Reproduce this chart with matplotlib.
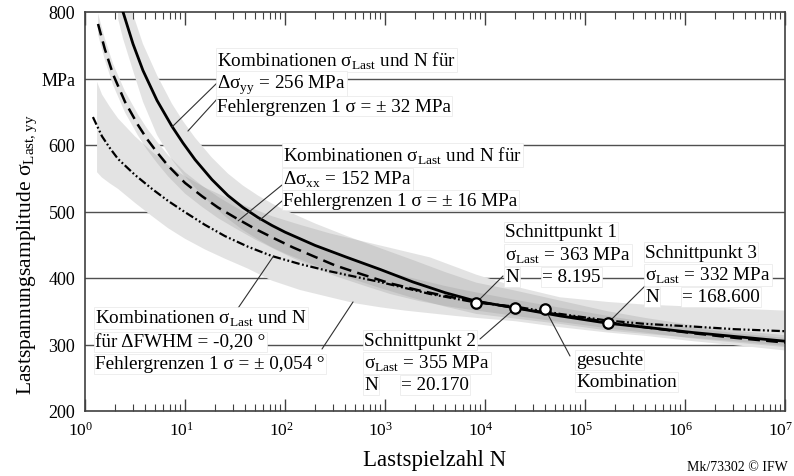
import numpy as np
import matplotlib
matplotlib.use("Agg")
import matplotlib.pyplot as plt
from matplotlib.transforms import ScaledTranslation

plt.rcParams['font.family'] = ['Liberation Serif', 'DejaVu Serif']
plt.rcParams['mathtext.fontset'] = 'custom'
plt.rcParams['mathtext.rm'] = 'Liberation Serif'
plt.rcParams['lines.scale_dashes'] = False

W, H = 794, 477

# ── Daten ──────────────────────────────────────────────────────────────────
# Kurve Δσ_yy = 256 MPa (durchgezogen) + Fehlerband ±32 MPa
N_YY = [2.14, 2.40, 3.02, 3.80, 5.25, 7.41, 9.55, 12.6, 18.6, 26.9, 38.0, 53.7,
        74.1, 100, 200, 417, 891, 1905, 3981, 8195, 20170, 56234, 168600,
        398107, 1.2e6, 3.16e6, 1e7]
S_YY = [826, 800, 752, 712, 667, 628, 603, 578, 548, 524, 506, 491,
        479, 469, 449, 431, 413, 394, 378, 365, 355, 343, 332,
        326, 318, 312, 305]
UP_YY = [870, 843, 797, 752, 705, 662, 636, 611, 581, 557, 539, 524,
         512, 502, 482, 463, 445, 427, 409, 393, 381, 366, 350,
         340, 329, 321, 314]
LO_YY = [790, 760, 712, 665, 615, 578, 556, 536, 510, 489, 472, 458,
         446, 437, 419, 401, 385, 370, 357, 346, 339, 331, 321,
         316, 310, 305, 298]

# Kurve Δσ_xx = 152 MPa (gestrichelt) + Fehlerband ±16 MPa
N_XX = [1.35, 1.58, 1.91, 2.51, 3.39, 4.17, 5.25, 6.76, 10, 14.8, 21.4, 31.6,
        50.1, 79.4, 120, 191, 316, 603, 1122, 2239, 3981, 6607, 20170,
        44668, 1e5, 199526, 398107, 1.2e6, 3.16e6, 1e7]
S_XX = [782, 744, 706, 665, 630, 609, 589, 569, 543, 523, 506, 491,
        474, 459, 446, 433, 419, 405, 392, 381, 373, 367, 355,
        347, 339, 332, 326, 317, 310, 303]
UP_XX = [798, 760, 722, 681, 646, 625, 605, 585, 559, 539, 522, 507,
         490, 475, 462, 449, 435, 421, 408, 397, 388, 381, 367,
         358, 349, 341, 334, 325, 317, 310]
LO_XX = [766, 728, 690, 649, 614, 593, 573, 553, 527, 507, 490, 475,
         458, 443, 430, 417, 403, 389, 376, 365, 358, 353, 343,
         336, 329, 323, 318, 309, 303, 296]

# Kurve ΔFWHM = -0,20° (Strich-Punkt-Punkt) + Fehlerband ±0,054°
N_FW = [1.20, 1.48, 1.78, 2.14, 3.16, 4.68, 6.76, 10, 15.8, 25.1, 42.7, 74.1,
        141, 282, 501, 891, 1585, 2818, 5012, 8195, 20170, 56234, 168600,
        398107, 1.2e6, 3.16e6, 1e7]
S_FW = [642, 613, 595, 579, 555, 534, 516, 499, 480, 463, 447, 433,
        421, 410, 402, 394, 385, 376, 369, 363, 357, 346, 336,
        331, 327, 323, 320]
NB_FW = [1.32, 1.48, 1.78, 2.14, 3.16, 4.68, 6.76, 10, 15.8, 25.1, 42.7, 74.1,
         141, 282, 501, 891, 1585, 2818, 5012, 8195, 20170, 56234, 168600,
         398107, 1.2e6, 3.16e6, 1e7]
UP_FW = [695, 676, 657, 640, 613, 590, 570, 553, 536, 522, 507, 493,
         480, 467, 458, 449, 440, 431, 417, 405, 387, 371, 364,
         360, 357, 354, 351]
LO_FW = [559, 551, 542, 534, 513, 493, 475, 459, 443, 429, 414, 396,
         382, 371, 362, 356, 351, 347, 343, 340, 335, 326, 318,
         313, 305, 299, 291]

# Schnittpunkte 1, 2, gesuchte Kombination, Schnittpunkt 3
PT_N = [8195, 20170, 40000, 168600]
PT_S = [363, 355, 353, 332]

Y_TICKS = [200, 300, 400, 500, 600, 700, 800]
Y_LABELS = ['200', '300', '400', '500', '600', 'MPa', '800']
X_TICKS = [1, 10, 100, 1e3, 1e4, 1e5, 1e6, 1e7]
X_LABELS = [r'$\mathregular{10^{%d}}$' % k for k in range(8)]


def px(x, y):
    """Bildpixel (oben links) -> figure fraction"""
    return (x / W, 1 - y / H)


fig = plt.figure(figsize=(W / 100, H / 100), dpi=100)
ax = fig.add_axes([85 / W, 1 - 412 / H, 700 / W, 399 / H])
ax.set_xscale('log')
ax.set_xlim(1, 1e7)
ax.set_ylim(200, 800)

# Gitter
for y in [300, 400, 500, 600, 700]:
    ax.axhline(y, color='#505050', lw=1.0, zorder=0.5)

# Bänder: erst weiß (deckt Gitter), dann halbtransparent grau
bands = [(NB_FW, LO_FW, UP_FW), (N_XX, LO_XX, UP_XX), (N_YY, LO_YY, UP_YY)]
for nb, lo, up in bands:
    ax.fill_between(nb, lo, up, facecolor='white', lw=0, zorder=1)
for nb, lo, up in bands:
    ax.fill_between(nb, lo, up, facecolor='#8c8c8c', alpha=0.24, lw=0, zorder=1.2)

# Kurven
ax.plot(N_FW, S_FW, color='black', lw=1.6, dashes=(6, 1.8, 1.3, 1.8, 1.3, 1.8), zorder=3)
ax.plot(N_XX, S_XX, color='black', lw=1.8, dashes=(8.5, 4.5), zorder=3)
ax.plot(N_YY, S_YY, color='black', lw=2.0, zorder=3.1)

ax.plot(PT_N, PT_S, 'o', ms=7.5, mfc='white', mec='black', mew=1.6, zorder=6)

# Achsen
for s in ax.spines.values():
    s.set_color('#404040')
    s.set_linewidth(1.2)
ax.set_yticks(Y_TICKS)
ax.set_yticklabels(Y_LABELS)
ax.tick_params(axis='y', length=0, pad=7, labelsize=13)
ax.set_xticks(X_TICKS)
ax.set_xticklabels(X_LABELS)
ax.tick_params(axis='x', which='major', direction='in', length=9, width=1.0,
               top=True, labelsize=12.5, pad=7, color='#404040')
ax.tick_params(axis='x', which='minor', direction='in', length=5, width=0.8,
               top=True, color='#404040')
shift = ScaledTranslation(-4 / 100, 0, fig.dpi_scale_trans)
for lab in ax.get_xticklabels():
    lab.set_transform(lab.get_transform() + shift)

ax.set_xlabel('Lastspielzahl N', fontsize=16.5)
ax.xaxis.set_label_coords(0.5, -0.095)
ax.set_ylabel(r'Lastspannungsamplitude σ$_\mathregular{Last,yy}$', fontsize=15.5)
ax.yaxis.set_label_coords(-0.064, 0.395)

# Beschriftungen
box = dict(facecolor='white', edgecolor='#e8e8e8', lw=0.5, pad=1.0)
fs = 13.8


def txt(x, y, s):
    fig.text(*px(x, y), s, fontsize=fs, ha='left', va='center', bbox=box, zorder=10)


def leader(x, y, n, s):
    ax.annotate('', xy=(n, s), xycoords='data', xytext=px(x, y),
                textcoords='figure fraction',
                arrowprops=dict(arrowstyle='-', lw=0.8, color='#303030',
                                shrinkA=0, shrinkB=0), zorder=5)


txt(217, 61, r'Kombinationen σ$_\mathregular{Last}$ und N für')
txt(217, 85, r'Δσ$_\mathregular{yy}$ = 256 MPa')
txt(217, 107, 'Fehlergrenzen 1 σ = ± 32 MPa')
leader(217, 84, 7.4, 627)
leader(218, 99, 10.7, 621)

txt(283, 156, r'Kombinationen σ$_\mathregular{Last}$ und N für')
txt(283, 180, r'Δσ$_\mathregular{xx}$ = 152 MPa')
txt(283, 201, 'Fehlergrenzen 1 σ = ± 16 MPa')
leader(282, 186, 34, 486)
leader(282, 202, 56, 487)

txt(95, 319, r'Kombinationen σ$_\mathregular{Last}$ und N')
txt(95, 343, 'für ΔFWHM = -0,20 °')
txt(95, 365, 'Fehlergrenzen 1 σ = ± 0,054 °')
leader(232, 318, 76, 432)
leader(322, 350, 479, 364)

txt(364, 341, 'Schnittpunkt 2')
txt(364, 364, r'σ$_\mathregular{Last}$ = 355 MPa')
txt(364, 386, 'N')
txt(401, 386, '= 20.170')
leader(480, 340, PT_N[1], PT_S[1])

txt(505, 233, 'Schnittpunkt 1')
txt(505, 256, r'σ$_\mathregular{Last}$ = 363 MPa')
txt(505, 278, 'N')
txt(542, 278, '= 8.195')
leader(503, 277, PT_N[0], PT_S[0])

txt(645, 253, 'Schnittpunkt 3')
txt(645, 276, r'σ$_\mathregular{Last}$ = 332 MPa')
txt(645, 298, 'N')
txt(682, 298, '= 168.600')
leader(647, 285, PT_N[3], PT_S[3])

txt(576, 361, 'gesuchte')
txt(576, 383, 'Kombination')
leader(570, 357, PT_N[2], PT_S[2])

fig.text(*px(788, 468), 'Mk/73302 © IFW', fontsize=10, ha='right', va='center')

fig.savefig('out.png', dpi=100)
